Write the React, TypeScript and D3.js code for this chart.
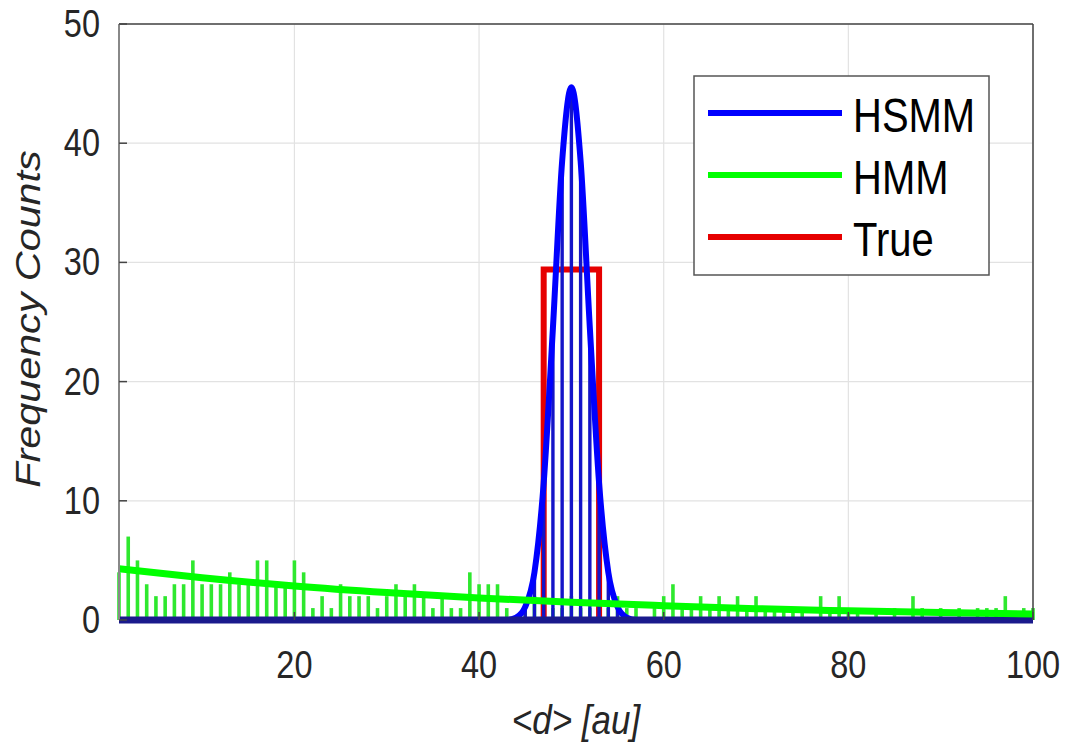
import React from "react";
import * as d3 from "d3";

// HMM histogram counts for d = 1..100
const hmmCounts = [
  4, 7, 5, 3, 2, 2, 3, 3, 5, 3,
  3, 3, 4, 3, 3, 5, 5, 3, 3, 5,
  4, 1, 2, 1, 3, 2, 2, 2, 1, 2,
  3, 2, 3, 2, 1, 2, 1, 1, 4, 3,
  3, 3, 1, 0, 1, 2, 1, 1, 1, 2,
  1, 1, 2, 1, 2, 1, 1, 0, 1, 2,
  3, 1, 1, 2, 1, 2, 1, 2, 1, 2,
  1, 1, 1, 1, 1, 0, 2, 1, 2, 1,
  1, 0, 1, 0, 1, 0, 2, 1, 0, 1,
  0, 1, 0, 1, 1, 1, 2, 0, 1, 1,
];
const hmmFitX = [1, 10, 20, 30, 40, 50, 60, 70, 80, 90, 100];
const hmmFitY = [4.3, 3.55, 2.85, 2.3, 1.85, 1.48, 1.2, 0.95, 0.77, 0.62, 0.5];

const hsmmX = [1, 40, 43, 44, 45, 46, 47, 48, 49, 50, 51, 52, 53, 54, 55, 56, 57, 60, 100];
const hsmmY = [0, 0, 0, 0.2, 1.1, 4, 11.5, 24.5, 38.5, 44.7, 38.5, 24.5, 11.5, 4, 1.1, 0.2, 0, 0, 0];
const hsmmStemX = [44, 45, 46, 47, 48, 49, 50, 51, 52, 53, 54, 55, 56];

const trueX = [1, 47, 47, 53, 53, 100];
const trueY = [0, 0, 29.4, 29.4, 0, 0];

const xTicks = [20, 40, 60, 80, 100];
const yTicks = [0, 10, 20, 30, 40, 50];
const legendItems = [
  { label: "HSMM", color: "#0000ff" },
  { label: "HMM", color: "#00ff00" },
  { label: "True", color: "#e60000" },
];

const FONT = "'Liberation Sans', Arial, Helvetica, sans-serif";
const SY = 1.18;

export default function App() {
  const left = 119, right = 1033, top = 24, bottom = 620;
  const x = d3.scaleLinear().domain([1, 100]).range([left, right]);
  const y = d3.scaleLinear().domain([0, 50]).range([bottom, top]);

  const lineGen = d3
    .line<[number, number]>()
    .x((d) => x(d[0]))
    .y((d) => y(d[1]));
  const smooth = d3
    .line<[number, number]>()
    .x((d) => x(d[0]))
    .y((d) => y(d[1]))
    .curve(d3.curveMonotoneX);

  const hmmFit = smooth(hmmFitX.map((v, i) => [v, hmmFitY[i]] as [number, number]));
  const hsmmCurve = smooth(hsmmX.map((v, i) => [v, hsmmY[i]] as [number, number]));
  const truePath = lineGen(trueX.map((v, i) => [v, trueY[i]] as [number, number]));

  const hsmmAt = (d: number) => hsmmY[hsmmX.indexOf(d)];

  return (
    <svg
      width={1065}
      height={750}
      style={{ position: "absolute", left: 0, top: 0, background: "#fff" }}
      fontFamily={FONT}
    >
      <rect x={0} y={0} width={1065} height={750} fill="#fff" />
      {/* grid */}
      {xTicks.map((t) => (
        <line key={"gx" + t} x1={x(t)} x2={x(t)} y1={top} y2={bottom} stroke="#e2e2e2" strokeWidth={1.2} />
      ))}
      {yTicks.map((t) => (
        <line key={"gy" + t} x1={left} x2={right} y1={y(t)} y2={y(t)} stroke="#e2e2e2" strokeWidth={1.2} />
      ))}

      {/* HMM stems */}
      {hmmCounts.map((c, i) =>
        c > 0 ? (
          <line
            key={"hs" + i}
            x1={x(i + 1)}
            x2={x(i + 1)}
            y1={y(0)}
            y2={y(c)}
            stroke="#2ee82e"
            strokeWidth={3.6}
          />
        ) : null
      )}

      {/* True */}
      <path d={truePath || ""} fill="none" stroke="#e60000" strokeWidth={6} strokeLinejoin="miter" />

      {/* HSMM stems */}
      {hsmmStemX.map((d) => (
        <line
          key={"bs" + d}
          x1={x(d)}
          x2={x(d)}
          y1={y(0)}
          y2={y(hsmmAt(d))}
          stroke="#1414c8"
          strokeWidth={3.4}
        />
      ))}
      {/* HSMM curve */}
      <path d={hsmmCurve || ""} fill="none" stroke="#0000ff" strokeWidth={6} strokeLinejoin="round" />
      <line x1={left} x2={right} y1={y(0)} y2={y(0)} stroke="#1a1a8c" strokeWidth={7} />

      {/* HMM fit */}
      <path d={hmmFit || ""} fill="none" stroke="#00ff00" strokeWidth={7} />

      {/* axes box */}
      <line x1={left} x2={right} y1={top} y2={top} stroke="#444" strokeWidth={1.5} />
      <line x1={right} x2={right} y1={top} y2={bottom} stroke="#444" strokeWidth={1.5} />
      <line x1={left} x2={left} y1={top} y2={bottom} stroke="#888" strokeWidth={2} />
      {yTicks.map((t) => (
        <line key={"ty" + t} x1={left} x2={left + 8} y1={y(t)} y2={y(t)} stroke="#444" strokeWidth={1.5} />
      ))}
      {xTicks.map((t) => (
        <line key={"tx" + t} x1={x(t)} x2={x(t)} y1={bottom} y2={bottom - 8} stroke="#444" strokeWidth={1.5} />
      ))}

      {/* tick labels */}
      {yTicks.map((t) => (
        <text
          key={"ly" + t}
          transform={`translate(100,${y(t)}) scale(1,${SY})`}
          textAnchor="end"
          dominantBaseline="central"
          fontSize={32.5}
          fill="#262626"
        >
          {t}
        </text>
      ))}
      {xTicks.map((t) => (
        <text
          key={"lx" + t}
          transform={`translate(${x(t)},665) scale(1,${SY})`}
          textAnchor="middle"
          dominantBaseline="central"
          fontSize={32.5}
          fill="#262626"
        >
          {t}
        </text>
      ))}

      {/* axis titles */}
      <text
        transform={`translate(576,719) scale(1,${SY})`}
        textAnchor="middle"
        dominantBaseline="central"
        fontSize={35}
        fontStyle="italic"
        fill="#262626"
      >
        {"<d> [au]"}
      </text>
      <text
        transform={`translate(28,319) scale(1,${SY}) rotate(-90)`}
        textAnchor="middle"
        dominantBaseline="central"
        fontSize={35}
        fontStyle="italic"
        fill="#262626"
      >
        Frequency Counts
      </text>

      {/* legend */}
      <rect x={694} y={76} width={295} height={199} fill="#fff" stroke="#555" strokeWidth={1.5} />
      {legendItems.map((it, i) => {
        const ly = 113 + i * 62;
        return (
          <g key={it.label}>
            <line x1={708} x2={842} y1={ly} y2={ly} stroke={it.color} strokeWidth={6} />
            <text
              transform={`translate(853,${ly + 2}) scale(1,${SY})`}
              dominantBaseline="central"
              fontSize={40}
              fill="#000"
            >
              {it.label}
            </text>
          </g>
        );
      })}
    </svg>
  );
}
